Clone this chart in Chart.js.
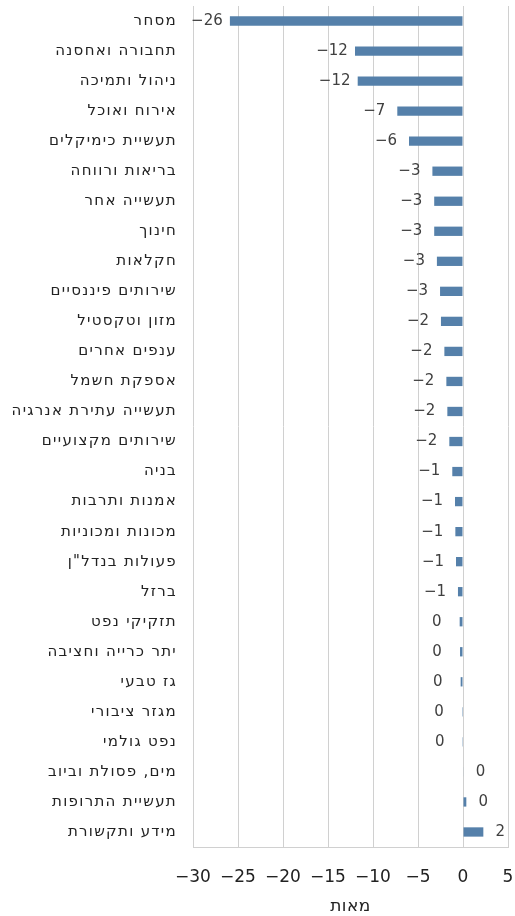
<!DOCTYPE html>
<html>
<head>
  <meta charset="utf-8">
  <title>Chart</title>
  <script src="https://cdn.jsdelivr.net/npm/chart.js"></script>
  <style>
    html, body { margin: 0; padding: 0; background: #ffffff; overflow: hidden; }
    #wrap { width: 515px; height: 916px; position: relative; }
    canvas { display: block; }
  </style>
</head>
<body>
  <div id="wrap"><canvas id="chart"></canvas></div>
  <script>
    // categories, top to bottom
    var categories = [
      'מסחר', 'תחבורה ואחסנה', 'ניהול ותמיכה', 'אירוח ואוכל', 'תעשיית כימיקלים',
      'בריאות ורווחה', 'תעשייה אחר', 'חינוך', 'חקלאות', 'שירותים פיננסיים',
      'מזון וטקסטיל', 'ענפים אחרים', 'אספקת חשמל', 'תעשייה עתירת אנרגיה',
      'שירותים מקצועיים', 'בניה', 'אמנות ותרבות', 'מכונות ומכוניות',
      'פעולות בנדל"ן', 'ברזל', 'תזקיקי נפט', 'יתר כרייה וחציבה', 'גז טבעי',
      'מגזר ציבורי', 'נפט גולמי', 'מים, פסולת וביוב', 'תעשיית התרופות', 'מידע ותקשורת'
    ];
    // values, hundreds
    var values = [
      -25.9, -12.0, -11.7, -7.3, -6.0,
      -3.4, -3.2, -3.2, -2.9, -2.55,
      -2.45, -2.07, -1.85, -1.74,
      -1.52, -1.19, -0.89, -0.85,
      -0.78, -0.56, -0.37, -0.33, -0.26,
      -0.1, -0.02, 0.05, 0.37, 2.26
    ];
    var xTicks = [-30, -25, -20, -15, -10, -5, 0, 5];
    var axisTitle = 'מאות';

    var fontFamily = '"DejaVu Sans", sans-serif';
    var textColor = '#404040';
    var labelColor = '#222222';

    // Hebrew text drawn with rtl direction, numbers with ltr
    var textLayer = {
      id: 'textLayer',
      afterDatasetsDraw: function(chart) {
        var ctx = chart.ctx;
        var meta = chart.getDatasetMeta(0);
        var yScale = chart.scales.y;
        var area = chart.chartArea;
        ctx.save();
        ctx.textBaseline = 'middle';

        // value labels
        ctx.fillStyle = textColor;
        ctx.direction = 'ltr';
        ctx.font = '15px ' + fontFamily;
        ctx.textAlign = 'center';
        meta.data.forEach(function(bar, i) {
          var v = values[i];
          var txt = String(Math.round(v)).replace('-', '\u2212');
          var x = v < 0 ? bar.x - 23 : bar.x + 17;
          ctx.fillText(txt, x, bar.y);
        });

        // category labels
        ctx.fillStyle = labelColor;
        ctx.direction = 'rtl';
        ctx.letterSpacing = '1.3px';
        ctx.textAlign = 'right';
        categories.forEach(function(c, i) {
          ctx.fillText(c, area.left - 16, yScale.getPixelForTick(i));
        });

        // axis title
        ctx.font = '17px ' + fontFamily;
        ctx.letterSpacing = '0.5px';
        ctx.textAlign = 'center';
        ctx.fillText(axisTitle, (area.left + area.right) / 2, 907);
        ctx.restore();
      }
    };

    new Chart(document.getElementById('chart'), {
      type: 'bar',
      data: {
        labels: categories,
        datasets: [{
          data: values,
          backgroundColor: '#5580aa',
          borderWidth: 0,
          barPercentage: 0.31,
          categoryPercentage: 1
        }]
      },
      options: {
        indexAxis: 'y',
        responsive: true,
        maintainAspectRatio: false,
        animation: false,
        layout: { padding: { top: 6, right: 7, left: 0, bottom: 0 } },
        plugins: {
          legend: { display: false },
          tooltip: { enabled: false }
        },
        scales: {
          x: {
            min: -30,
            max: 5,
            afterBuildTicks: function(scale) {
              scale.ticks = xTicks.map(function(v) { return { value: v }; });
            },
            afterFit: function(scale) { scale.height = 69; },
            grid: {
              color: '#d0d0d0',
              lineWidth: 1,
              drawTicks: true,
              tickLength: 20,
              tickColor: 'rgba(0,0,0,0)'
            },
            border: { color: '#d0d0d0' },
            ticks: {
              padding: 0,
              color: labelColor,
              font: { family: fontFamily, size: 17 },
              callback: function(v) { return String(v).replace('-', '\u2212'); }
            }
          },
          y: {
            afterFit: function(scale) { scale.width = 193; },
            grid: { display: false, drawTicks: false },
            border: { display: false },
            ticks: { display: false }
          }
        }
      },
      plugins: [textLayer]
    });
  </script>
</body>
</html>
